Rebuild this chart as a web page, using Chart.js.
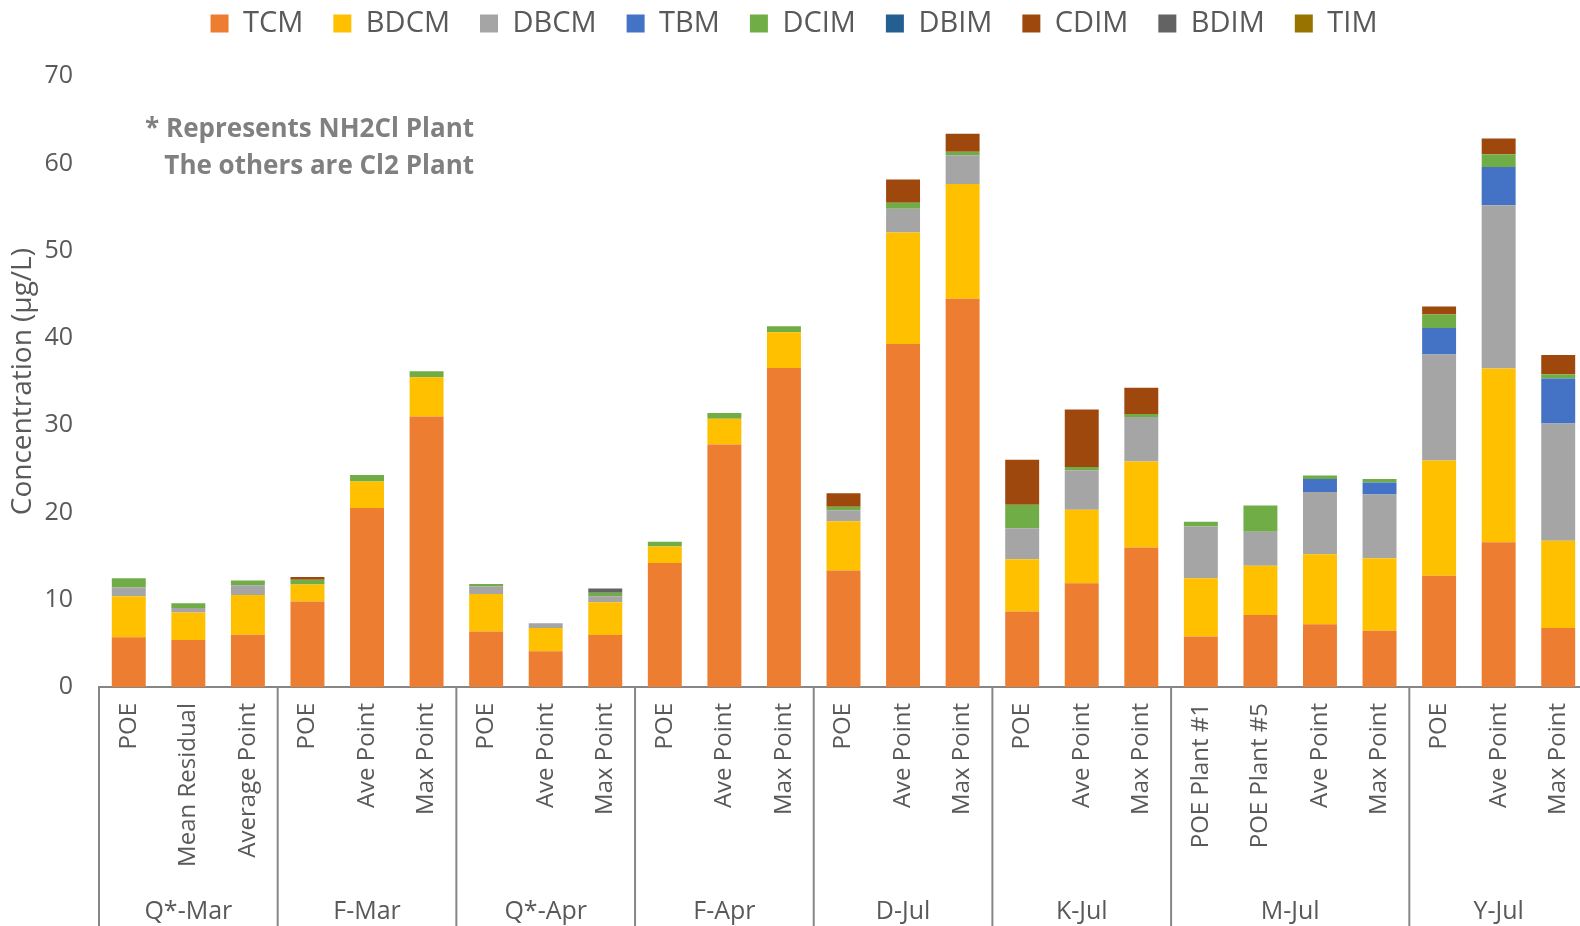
<!DOCTYPE html>
<html lang="en">
<head>
    <meta charset="UTF-8">
    <title>Disinfection By-Products Concentration</title>
    <script src="https://cdn.jsdelivr.net/npm/chart.js"></script>
    <style>
        body {
            margin: 0;
            overflow: hidden;
            background-color: #ffffff;
        }
        #chart-container {
            width: 1592px;
            height: 926px;
        }
    </style>
</head>
<body>
    <div id="chart-container">
        <canvas id="dbpChart"></canvas>
    </div>
    <script>
        const labels = ['POE', 'Mean Residual', 'Average Point', 'POE', 'Ave Point', 'Max Point',
            'POE', 'Ave Point', 'Max Point', 'POE', 'Ave Point', 'Max Point',
            'POE', 'Ave Point', 'Max Point', 'POE', 'Ave Point', 'Max Point',
            'POE Plant #1', 'POE Plant #5', 'Ave Point', 'Max Point', 'POE', 'Ave Point', 'Max Point'];
        const groupNames = ['Q*-Mar', 'F-Mar', 'Q*-Apr', 'F-Apr', 'D-Jul', 'K-Jul', 'M-Jul', 'Y-Jul'];
        const groupSizes = [3, 3, 3, 3, 3, 3, 4, 3];

        const tcm  = [5.7, 5.4, 6.0, 9.8, 20.5, 31.0, 6.35, 4.1, 5.95, 14.2, 27.8, 36.55, 13.35, 39.3, 44.5, 8.65, 11.9, 16.0, 5.8, 8.25, 7.2, 6.45, 12.75, 16.6, 6.75];
        const bdcm = [4.7, 3.15, 4.55, 1.95, 3.05, 4.5, 4.3, 2.65, 3.75, 1.9, 2.95, 4.1, 5.65, 12.8, 13.15, 6.0, 8.4, 9.85, 6.65, 5.65, 8.0, 8.3, 13.2, 19.9, 10.0];
        const dbcm = [1.0, 0.5, 1.1, 0, 0, 0, 0.9, 0.55, 0.7, 0, 0, 0, 1.25, 2.7, 3.3, 3.55, 4.55, 5.1, 5.95, 3.9, 7.15, 7.3, 12.15, 18.7, 13.45];
        const tbm  = [0, 0, 0, 0, 0, 0, 0, 0, 0, 0, 0, 0, 0, 0, 0, 0, 0, 0, 0, 0, 1.48, 1.4, 3.05, 4.4, 5.15];
        const dcim = [1.05, 0.55, 0.55, 0.55, 0.75, 0.7, 0.25, 0, 0.4, 0.55, 0.65, 0.7, 0.4, 0.7, 0.4, 2.7, 0.35, 0.35, 0.55, 3.0, 0.4, 0.4, 1.55, 1.45, 0.5];
        const dbim = [0, 0, 0, 0, 0, 0, 0, 0, 0, 0, 0, 0, 0, 0, 0, 0, 0, 0, 0, 0, 0, 0, 0, 0, 0];
        const cdim = [0, 0, 0, 0.3, 0, 0, 0, 0, 0, 0, 0, 0, 1.55, 2.65, 2.05, 5.15, 6.6, 3.0, 0, 0, 0, 0, 0.9, 1.8, 2.2];
        const bdim = [0, 0, 0, 0, 0, 0, 0, 0, 0.5, 0, 0, 0, 0, 0, 0, 0, 0, 0, 0, 0, 0, 0, 0, 0, 0];
        const tim  = [0, 0, 0, 0, 0, 0, 0, 0, 0, 0, 0, 0, 0, 0, 0, 0, 0, 0, 0, 0, 0, 0, 0, 0, 0];

        const yTicks = [0, 10, 20, 30, 40, 50, 60, 70];

        const series = [
            ['TCM', tcm, '#ED7D31'],
            ['BDCM', bdcm, '#FFC000'],
            ['DBCM', dbcm, '#A5A5A5'],
            ['TBM', tbm, '#4472C4'],
            ['DCIM', dcim, '#70AD47'],
            ['DBIM', dbim, '#255E91'],
            ['CDIM', cdim, '#9E480E'],
            ['BDIM', bdim, '#636363'],
            ['TIM', tim, '#997300']
        ];

        const textColor = '#595959';
        const lineColor = '#868686';

        // group separators, group names and the note in the corner
        const groupAxis = {
            id: 'groupAxis',
            afterDraw(chart) {
                const c = chart.ctx;
                const x = chart.scales.x;
                const area = chart.chartArea;
                const step = x.getPixelForValue(1) - x.getPixelForValue(0);
                c.save();
                c.strokeStyle = lineColor;
                c.lineWidth = 2;
                c.fillStyle = textColor;
                c.font = '25px "Open Sans"';
                c.textAlign = 'center';
                c.textBaseline = 'middle';
                let idx = 0;
                for (let g = 0; g < groupSizes.length; g++) {
                    const left = x.getPixelForValue(idx) - step / 2;
                    const right = x.getPixelForValue(idx + groupSizes[g] - 1) + step / 2;
                    c.beginPath();
                    c.moveTo(left, area.bottom);
                    c.lineTo(left, chart.height);
                    c.stroke();
                    c.fillText(groupNames[g], (left + right) / 2, 912);
                    idx += groupSizes[g];
                }
                c.fillStyle = '#808080';
                c.font = 'bold 26px "Open Sans"';
                c.textAlign = 'right';
                c.fillText('* Represents NH2Cl Plant', 474, 130);
                c.fillText('The others are Cl2 Plant', 474, 167);
                c.restore();
            }
        };

        const ctx = document.getElementById('dbpChart').getContext('2d');
        const dbpChart = new Chart(ctx, {
            type: 'bar',
            data: {
                labels: labels,
                datasets: series.map(s => ({
                    label: s[0],
                    data: s[1],
                    backgroundColor: s[2],
                    borderWidth: 0,
                    barPercentage: 0.57,
                    categoryPercentage: 1.0
                }))
            },
            options: {
                responsive: true,
                maintainAspectRatio: false,
                animation: false,
                layout: { padding: { top: -21, right: 4, bottom: 0, left: 0 } },
                plugins: {
                    legend: {
                        position: 'top',
                        labels: {
                            color: textColor,
                            font: { family: 'Open Sans', size: 29 },
                            boxWidth: 18,
                            boxHeight: 18,
                            padding: 30
                        }
                    },
                    // empty spacer between legend and plot
                    title: {
                        display: true,
                        text: ' ',
                        weight: 500,
                        font: { size: 1 },
                        padding: { top: 0, bottom: 27 }
                    },
                    tooltip: { enabled: false }
                },
                scales: {
                    x: {
                        stacked: true,
                        grid: { display: false, drawTicks: false },
                        border: { display: true, color: lineColor, width: 2 },
                        ticks: {
                            color: textColor,
                            font: { family: 'Open Sans', size: 24 },
                            maxRotation: 90,
                            minRotation: 90,
                            autoSkip: false,
                            padding: 16
                        },
                        afterFit(axis) {
                            axis.height = 239;
                            axis.paddingLeft = 0;
                            axis.paddingRight = 0;
                        }
                    },
                    y: {
                        stacked: true,
                        min: 0,
                        max: 70,
                        grid: { display: false, drawTicks: false },
                        border: { display: false },
                        afterBuildTicks(axis) { axis.ticks = yTicks.map(v => ({ value: v })); },
                        ticks: {
                            color: textColor,
                            font: { family: 'Open Sans', size: 25 },
                            padding: 26
                        },
                        title: {
                            display: true,
                            text: 'Concentration (μg/L)',
                            color: textColor,
                            font: { family: 'Open Sans', size: 28 },
                            padding: { top: 6, bottom: 0 }
                        },
                        afterFit(axis) { axis.width = 99; }
                    }
                }
            },
            plugins: [groupAxis]
        });
    </script>
</body>
</html>
